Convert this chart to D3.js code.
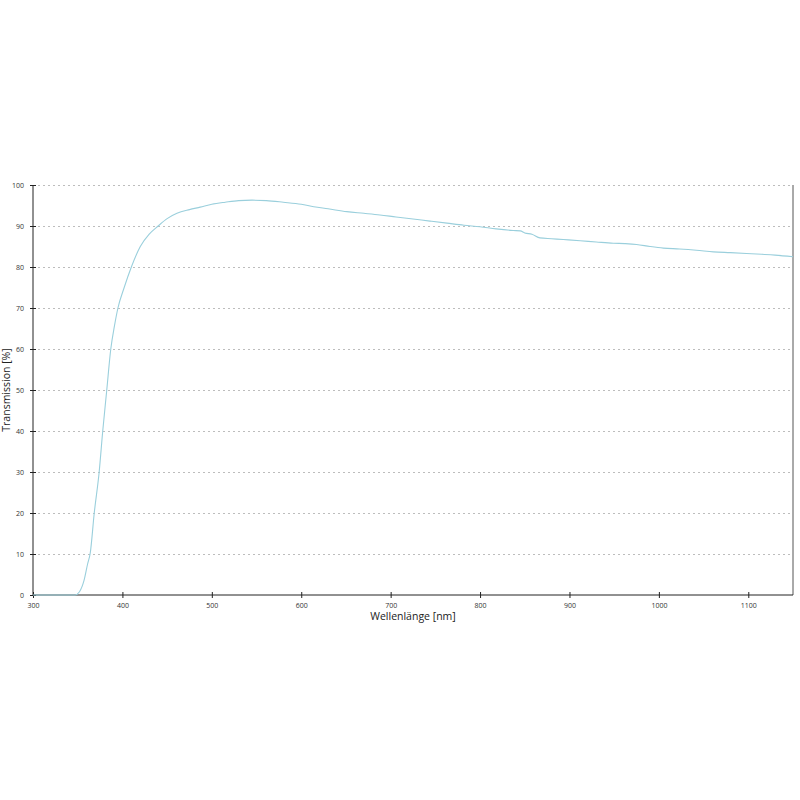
<!DOCTYPE html>
<html>
<head>
<meta charset="utf-8">
<script src="https://cdn.jsdelivr.net/npm/d3@7"></script>
<style>
body { margin: 0; background: #fff; }
.grid line { stroke: #bdbdbd; stroke-dasharray: 2,3; }
.grid path { display: none; }
.axis text { font-family: "Open Sans", sans-serif; font-size: 7px; fill: #333; }
.axis path, .axis line { stroke: #222; }
</style>
</head>
<body>
<div id="chart"></div>
<script>
// wavelength (nm) and transmission (%)
var wavelength = [300, 320, 340, 347, 352, 357, 361, 364, 368.5, 374, 378, 382.5, 387, 391, 395, 402, 410, 420, 430, 440, 450, 461, 475, 487, 500, 515, 530, 545, 561, 580, 600, 614, 630, 651, 670, 688, 706, 725, 744, 763, 782, 800, 818, 837, 845, 850, 858, 867, 880, 893, 912, 930, 949, 962, 975, 990, 1005, 1023, 1042, 1061, 1080, 1098, 1115, 1130, 1150];
var transmission = [0, 0, 0, 0, 0.8, 3.5, 7.5, 10.2, 20, 30, 40, 50, 60, 65.5, 70, 75, 80, 85, 88, 90, 91.8, 93.1, 94, 94.6, 95.3, 95.8, 96.2, 96.3, 96.2, 95.8, 95.3, 94.7, 94.2, 93.5, 93.1, 92.7, 92.2, 91.7, 91.2, 90.7, 90.2, 89.8, 89.3, 88.9, 88.8, 88.3, 88.0, 87.1, 86.9, 86.7, 86.4, 86.1, 85.8, 85.7, 85.5, 85.0, 84.6, 84.4, 84.1, 83.7, 83.5, 83.3, 83.1, 82.9, 82.5];
var xTicks = [300, 400, 500, 600, 700, 800, 900, 1000, 1100];
var yTicks = [0, 10, 20, 30, 40, 50, 60, 70, 80, 90, 100];

var data = wavelength.map(function (w, i) { return { nm: w, t: transmission[i] }; });

var margin = { top: 185, left: 33 },
    width = 760,
    height = 410;

var svg = d3.select("#chart").append("svg")
    .attr("width", 800)
    .attr("height", 800);

var g = svg.append("g")
    .attr("transform", "translate(" + margin.left + "," + margin.top + ")");

var x = d3.scaleLinear().domain([300, 1150]).range([0, width]);
var y = d3.scaleLinear().domain([0, 100]).range([height, 0]);

// dotted horizontal gridlines
g.append("g")
    .attr("class", "grid")
    .call(d3.axisLeft(y).tickValues(yTicks.slice(1)).tickSize(-width).tickFormat(""));

// right border
g.append("line")
    .attr("x1", width).attr("x2", width)
    .attr("y1", 0).attr("y2", height)
    .attr("stroke", "#555")
    .attr("stroke-width", 1);

// y axis, ticks crossing the line
var yAxis = g.append("g")
    .attr("class", "axis")
    .call(d3.axisLeft(y).tickValues(yTicks).tickFormat(d3.format("d")).tickSize(3).tickPadding(6));
yAxis.selectAll(".tick line").attr("x2", 3).attr("x1", -3);
yAxis.select(".domain").attr("d", "M0,0V" + height);

// x axis
var xAxis = g.append("g")
    .attr("class", "axis")
    .attr("transform", "translate(0," + height + ")")
    .call(d3.axisBottom(x).tickValues(xTicks).tickFormat(d3.format("d")).tickSize(3).tickPadding(5));
xAxis.selectAll(".tick line").attr("y1", -3).attr("y2", 3);
xAxis.select(".domain").attr("d", "M0,0H" + width);

// curve
var line = d3.line()
    .x(function (d) { return x(d.nm); })
    .y(function (d) { return y(d.t); })
    .curve(d3.curveMonotoneX);

g.append("path")
    .datum(data)
    .attr("fill", "none")
    .attr("stroke", "#9acfdc")
    .attr("stroke-width", 1.1)
    .attr("d", line);

// axis titles
svg.append("text")
    .attr("x", margin.left + width / 2)
    .attr("y", 620)
    .attr("text-anchor", "middle")
    .attr("font-family", "Open Sans, sans-serif")
    .attr("font-size", 10.5)
    .attr("fill", "#222")
    .text("Wellenlänge [nm]");

svg.append("text")
    .attr("transform", "translate(10," + (margin.top + height / 2) + ") rotate(-90)")
    .attr("text-anchor", "middle")
    .attr("font-family", "Open Sans, sans-serif")
    .attr("font-size", 10.5)
    .attr("fill", "#222")
    .text("Transmission [%]");
</script>
</body>
</html>
